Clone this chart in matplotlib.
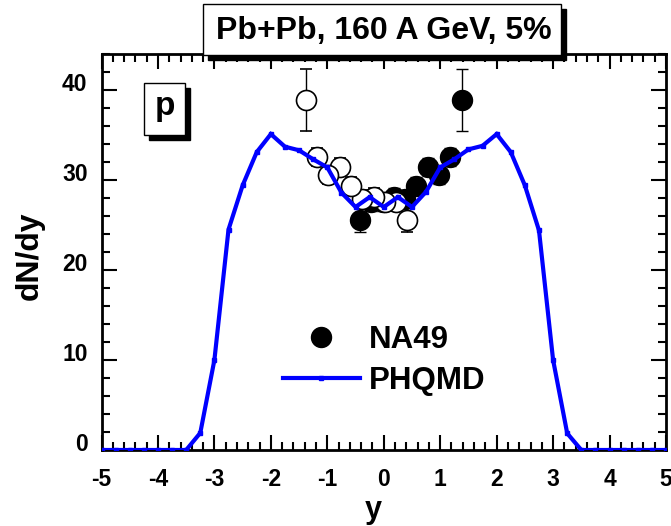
import matplotlib
matplotlib.use("Agg")
import matplotlib.pyplot as plt
import numpy as np
from matplotlib.patches import Rectangle
from matplotlib.transforms import ScaledTranslation
from matplotlib.lines import Line2D

plt.rcParams['font.family'] = ['Liberation Sans', 'DejaVu Sans']

# PHQMD model curve
phqmd_y = [-5.0, -4.75, -4.5, -4.25, -4.0, -3.75, -3.5, -3.25, -3.0, -2.75, -2.5, -2.25, -2.0,
           -1.75, -1.5, -1.25, -1.0, -0.75, -0.5, -0.25, 0.0, 0.25, 0.5, 0.75, 1.0, 1.25,
           1.5, 1.75, 2.0, 2.25, 2.5, 2.75, 3.0, 3.25, 3.5, 3.75, 4.0, 4.25, 4.5, 4.75, 5.0]
phqmd_dndy = [0, 0, 0, 0, 0, 0, 0, 1.9, 10.0, 24.5, 29.4, 33.1, 35.1,
              33.7, 33.3, 32.3, 31.4, 28.6, 27.0, 28.1, 27.0, 28.1, 27.0, 28.7, 31.4, 32.3,
              33.4, 33.8, 35.1, 33.1, 29.4, 24.4, 10.0, 1.85, 0, 0, 0, 0, 0, 0, 0]

# NA49 measured (filled)
na49_y = [-0.42, -0.22, -0.02, 0.18, 0.38, 0.58, 0.78, 0.98, 1.18, 1.38]
na49_dndy = [25.6, 27.6, 27.6, 28.1, 27.85, 29.3, 31.4, 30.6, 32.6, 38.9]
na49_err = [1.35, 1.0, 1.0, 1.0, 1.0, 1.0, 1.0, 1.0, 1.0, 3.45]

# reflected (open)
refl_y = [-v for v in na49_y]

fig = plt.figure(figsize=(6.71, 5.26), dpi=100)
W, H = 671, 526
ax = fig.add_axes([101.5 / W, 1 - 450 / H, (666 - 101.5) / W, (450 - 54) / H])

ms = 14.4
ax.errorbar(na49_y, na49_dndy, yerr=na49_err, fmt='o', color='black', ms=ms,
            ecolor='black', elinewidth=1.0, capsize=4, capthick=1.0, zorder=2)
ax.errorbar(refl_y, na49_dndy, yerr=na49_err, fmt='o', mfc='white', mec='black', mew=1.2,
            ms=ms, ecolor='black', elinewidth=1.0, capsize=4, capthick=1.0, zorder=3)
ax.plot(phqmd_y, phqmd_dndy, color='#0000ff', lw=3, marker='s', ms=3, zorder=4,
        solid_joinstyle='miter')

ax.set_xlim(-5, 5)
ax.set_ylim(0, 44)
ax.set_xticks(np.arange(-5, 6, 1))
ax.set_xticks(np.arange(-5, 5.01, 0.2), minor=True)
ax.set_yticks([0, 10, 20, 30, 40])
ax.set_yticks(np.arange(0, 44.1, 2), minor=True)
ax.set_xticklabels(['-5', '-4', '-3', '-2', '-1', '0', '1', '2', '3', '4', '5'])
ax.tick_params(which='both', direction='in', top=True, right=True, width=1.5,
               labelsize=16.5)
ax.tick_params(which='major', length=11)
ax.tick_params(which='minor', length=5.5)
ax.tick_params(axis='x', which='major', pad=13)
ax.tick_params(axis='y', which='major', pad=10)
for lab in ax.get_xticklabels() + ax.get_yticklabels():
    lab.set_fontweight('bold')
for lab in ax.get_yticklabels():
    lab.set_transform(lab.get_transform() + ScaledTranslation(0, 8 / 100, fig.dpi_scale_trans))
for s in ax.spines.values():
    s.set_linewidth(2)

fig.text(30 / W, 1 - 256 / H, 'dN/dy', rotation=90, ha='center', va='center',
         fontsize=23, fontweight='bold')
fig.text(373 / W, 1 - 510 / H, 'y', ha='center', va='center', fontsize=22, fontweight='bold')

# legend
h1 = Line2D([], [], marker='o', color='black', ls='none', ms=ms)
h2 = Line2D([], [], color='#0000ff', lw=3, marker='s', ms=3)
leg = ax.legend([h1, h2], ['NA49', 'PHQMD'], loc='upper left',
                bbox_to_anchor=((283 - 101.5) / (666 - 101.5), (450 - 325) / (450 - 54)),
                frameon=False, handlelength=2.45, handletextpad=0.3, labelspacing=0.35,
                borderpad=0, borderaxespad=0, prop={'size': 22.5, 'weight': 'bold'})

# title box with shadow
def shadow_box(x0, y0, x1, y1, off=5):
    sh = Rectangle(((x0 + off) / W, 1 - (y1 + off) / H), (x1 - x0) / W, (y1 - y0) / H,
                   transform=fig.transFigure, facecolor='black', edgecolor='black', zorder=5)
    bx = Rectangle((x0 / W, 1 - y1 / H), (x1 - x0) / W, (y1 - y0) / H,
                   transform=fig.transFigure, facecolor='white', edgecolor='black', lw=1, zorder=6)
    fig.patches.extend([sh, bx])

shadow_box(203, 4, 561, 55, off=5)
fig.text((203 + 561) / 2 / W + 2 / W, 1 - 31 / H, 'Pb+Pb, 160 A GeV, 5%', ha='center', va='center',
         fontsize=23, fontweight='bold', zorder=7)
shadow_box(144, 83, 185, 135, off=5)
fig.text((144 + 185) / 2 / W, 1 - 107 / H, 'p', ha='center', va='center',
         fontsize=24, fontweight='bold', zorder=7)

fig.savefig('out.png', dpi=100)
